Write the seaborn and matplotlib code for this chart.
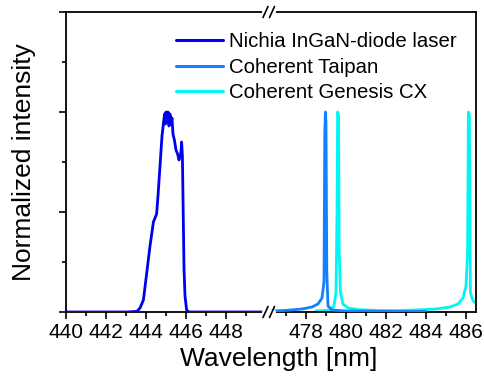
import matplotlib
matplotlib.use("Agg")
import matplotlib.pyplot as plt
from matplotlib.lines import Line2D
from matplotlib.ticker import FixedLocator, NullFormatter
import numpy as np
import pandas as pd
import seaborn as sns

# ---- spectra (wavelength in nm, normalized intensity) ----
nichia_wl = [440.0, 443.0, 443.55, 443.7, 443.87, 444.03, 444.2, 444.3, 444.37, 444.45,
             444.53, 444.6, 444.7, 444.8, 444.88, 444.93, 444.97, 445.0, 445.05, 445.1,
             445.15, 445.2, 445.25, 445.3, 445.35, 445.42, 445.5, 445.58, 445.65, 445.7,
             445.75, 445.78, 445.82, 445.86, 445.9, 445.95, 446.03, 446.15, 450.5]
nichia_int = [0.0, 0.0, 0.003, 0.02, 0.06, 0.19, 0.33, 0.40, 0.45, 0.47,
              0.49, 0.58, 0.73, 0.88, 0.95, 0.99, 0.94, 1.0, 0.95, 1.0,
              0.93, 0.99, 0.94, 0.97, 0.89, 0.86, 0.81, 0.79, 0.76, 0.78,
              0.80, 0.85, 0.78, 0.50, 0.22, 0.08, 0.01, 0.0, 0.0]

taipan_wl = [476.0, 477.0, 477.8, 478.3, 478.6, 478.8, 478.9, 478.94, 478.97, 479.0,
             479.04, 479.1, 479.3, 480.0, 482.0, 484.0]
taipan_int = [0.003, 0.008, 0.015, 0.025, 0.04, 0.07, 0.15, 0.9, 1.0, 0.95,
              0.2, 0.03, 0.01, 0.005, 0.003, 0.003]

genesis_wl = [478.5, 479.2, 479.4, 479.5, 479.55, 479.58, 479.63, 479.66, 479.72, 479.85,
              480.1, 480.6, 481.5, 482.5, 483.5, 484.5, 485.2, 485.6, 485.85, 486.0,
              486.08, 486.12, 486.17, 486.2, 486.22, 486.3, 486.4, 486.6]
genesis_int = [0.005, 0.01, 0.03, 0.1, 0.5, 1.0, 0.98, 0.3, 0.1, 0.04,
               0.02, 0.012, 0.008, 0.007, 0.01, 0.015, 0.025, 0.04, 0.07, 0.13,
               0.3, 1.0, 0.98, 0.5, 0.1, 0.07, 0.05, 0.04]

labels = ["Nichia InGaN-diode laser", "Coherent Taipan", "Coherent Genesis CX"]
colors = ["#0000F0", "#1580FF", "#00F5F5"]

df = pd.concat([
    pd.DataFrame({"wl": nichia_wl, "I": nichia_int, "src": labels[0]}),
    pd.DataFrame({"wl": taipan_wl, "I": taipan_int, "src": labels[1]}),
    pd.DataFrame({"wl": genesis_wl, "I": genesis_int, "src": labels[2]}),
])

sns.set_theme(style="ticks")
plt.rcParams["font.family"] = ["Liberation Sans", "DejaVu Sans"]
for k in ("text.color", "axes.labelcolor", "xtick.color", "ytick.color", "axes.edgecolor"):
    plt.rcParams[k] = "black"

W, H = 485, 381
fig = plt.figure(figsize=(W / 100, H / 100), dpi=100)

x0, x1, xb = 66, 476, 269      # pixel columns: left edge, right edge, break
y_top, y_bot = 12, 312
B = 1 - y_bot / H
T = 1 - y_top / H
axL = fig.add_axes([x0 / W, B, (xb - x0) / W, T - B])
axR = fig.add_axes([xb / W, B, (x1 - xb) / W, T - B])

px_per_nm = 20.0
axL.set_xlim(440, 440 + (xb - x0) / px_per_nm)
axR.set_xlim(486.5 - (x1 - xb) / px_per_nm, 486.5)

zord = {labels[0]: 3, labels[1]: 3, labels[2]: 2}
for ax in (axL, axR):
    for lab, col in zip(labels, colors):
        sub = df[df["src"] == lab]
        sns.lineplot(data=sub, x="wl", y="I", ax=ax, color=col, lw=2.0,
                     zorder=zord[lab], legend=False, estimator=None, sort=False)
    ax.set_ylim(0, 1.5)
    ax.set_xlabel("")
    ax.set_ylabel("")
    for s in ax.spines.values():
        s.set_linewidth(1.3)
        s.set_color("black")
    ax.tick_params(axis="both", which="major", direction="out", length=5,
                   width=1.2, color="black", labelcolor="black", labelsize=15, pad=3,
                   top=False, right=False)
    ax.tick_params(axis="both", which="minor", direction="out", length=3,
                   width=1.2, color="black", top=False, right=False)

axL.spines["right"].set_visible(False)
axR.spines["left"].set_visible(False)

axL.xaxis.set_major_locator(FixedLocator([440, 442, 444, 446, 448]))
axL.xaxis.set_minor_locator(FixedLocator([441, 443, 445, 447, 449]))
axR.xaxis.set_major_locator(FixedLocator([478, 480, 482, 484, 486]))
axR.xaxis.set_minor_locator(FixedLocator([477, 479, 481, 483, 485]))

axL.yaxis.set_major_locator(FixedLocator([0, 0.5, 1.0, 1.5]))
axL.yaxis.set_minor_locator(FixedLocator([0.25, 0.75, 1.25]))
axL.yaxis.set_major_formatter(NullFormatter())
axR.tick_params(axis="y", which="both", left=False, right=False, labelleft=False)

# axis-break marks on top and bottom frame
def px(x, y):
    return x / W, 1 - y / H

for yy in (y_top, y_bot):
    gx0, gy0 = px(xb - 5, yy)
    gx1, gy1 = px(xb + 5, yy)
    fig.add_artist(Line2D([gx0, gx1], [gy0, gy1], color="white", lw=3, zorder=10))
    for dx in (-3.5, 3.0):
        a = px(xb + dx - 2.5, yy + 5.5)
        b = px(xb + dx + 2.5, yy - 5.5)
        fig.add_artist(Line2D([a[0], b[0]], [a[1], b[1]], color="black", lw=1.2, zorder=11))

fig.text(279 / W, 1 - 359 / H, "Wavelength [nm]", ha="center", va="center", fontsize=19)
fig.text(24 / W, 1 - 162 / H, "Normalized intensity", ha="center", va="center",
         rotation=90, fontsize=19)

handles = [Line2D([], [], color=c, lw=2.2) for c in colors]
fig.legend(handles, labels, loc="upper left", bbox_to_anchor=(176 / W, 1 - 32 / H),
           frameon=False, fontsize=14.7, borderpad=0, borderaxespad=0,
           handlelength=2.3, handletextpad=0.3, labelspacing=0.33)

fig.savefig("out.png", dpi=100)
